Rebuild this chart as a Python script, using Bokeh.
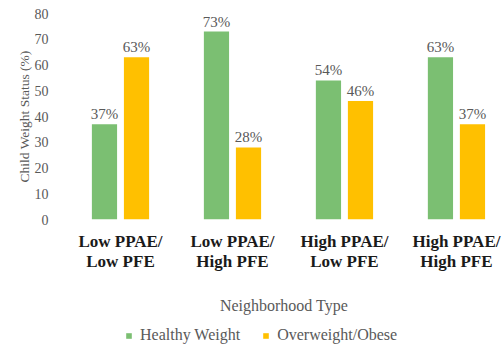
from bokeh.plotting import figure
from bokeh.layouts import column
from bokeh.models import Range1d, FixedTicker, ColumnDataSource, Legend, LegendItem, LabelSet
from bokeh.transform import dodge
from bokeh.embed import file_html
from bokeh.resources import INLINE

# Neighborhood types and weight-status shares (%)
categories = ["Low PPAE/\nLow PFE", "Low PPAE/\nHigh PFE", "High PPAE/\nLow PFE", "High PPAE/\nHigh PFE"]
series = ["Healthy Weight", "Overweight/Obese"]
healthy = [37, 73, 54, 63]
overweight = [63, 28, 46, 37]
y_ticks = [0, 10, 20, 30, 40, 50, 60, 70, 80]

GREEN = "#7bbf72"
ORANGE = "#ffc000"
SERIF = "Liberation Serif"
GREY = "#595959"

xpos = [i + 0.5 for i in range(len(categories))]
src = ColumnDataSource(dict(
    x=xpos,
    healthy=healthy,
    overweight=overweight,
    hl=[f"{v}%" for v in healthy],
    ol=[f"{v}%" for v in overweight],
))

p = figure(frame_width=439, frame_height=206, output_backend="svg", toolbar_location=None,
           x_range=Range1d(0, 3.92), y_range=Range1d(0, 80),
           min_border_top=13, min_border_left=64, min_border_right=0,
           min_border_bottom=94)

bw = 0.225
p.vbar(x=dodge("x", -0.143, range=p.x_range), top="healthy", width=bw,
       source=src, fill_color=GREEN, line_color=None)
p.vbar(x=dodge("x", 0.143, range=p.x_range), top="overweight", width=bw,
       source=src, fill_color=ORANGE, line_color=None)

for col, lab, dx in (("healthy", "hl", -0.143), ("overweight", "ol", 0.143)):
    p.add_layout(LabelSet(x=dodge("x", dx, range=p.x_range), y=col, text=lab,
                          source=src, text_align="center", y_offset=2,
                          text_font=SERIF, text_font_size="15px",
                          text_color=GREY))

# axes
p.xaxis.ticker = FixedTicker(ticks=xpos)
p.xaxis.major_label_overrides = {x: c for x, c in zip(xpos, categories)}
p.xaxis.major_label_text_font = SERIF
p.xaxis.major_label_text_font_style = "bold"
p.xaxis.major_label_text_font_size = "17px"
p.xaxis.major_label_text_line_height = 1.1
p.xaxis.major_label_text_color = "#1a1a1a"
p.xaxis.major_label_standoff = 6
p.xaxis.axis_label = "Neighborhood Type"
p.xaxis.axis_label_text_font = SERIF
p.xaxis.axis_label_text_font_style = "normal"
p.xaxis.axis_label_text_font_size = "16px"
p.xaxis.axis_label_text_color = GREY
p.xaxis.axis_label_standoff = 23

p.yaxis.ticker = FixedTicker(ticks=y_ticks)
p.yaxis.major_label_text_font = SERIF
p.yaxis.major_label_text_font_size = "14px"
p.yaxis.major_label_text_color = GREY
p.yaxis.major_label_standoff = 10
p.yaxis.axis_label = "Child Weight Status (%)"
p.yaxis.axis_label_text_font = SERIF
p.yaxis.axis_label_text_font_style = "normal"
p.yaxis.axis_label_text_font_size = "13.5px"
p.yaxis.axis_label_text_color = GREY
p.yaxis.axis_label_standoff = 0

for ax in (p.xaxis, p.yaxis):
    ax.axis_line_color = None
    ax.major_tick_line_color = None
    ax.minor_tick_line_color = None

p.xgrid.grid_line_color = None
p.ygrid.grid_line_color = None
p.outline_line_color = None

# legend strip underneath the chart; its swatch renderers lie far outside the visible range
lg = figure(width=503, height=32, output_backend="svg", toolbar_location=None,
            x_range=Range1d(0, 1), y_range=Range1d(0, 1),
            x_axis_location=None, y_axis_location=None,
            min_border=0, outline_line_color=None)
lg.grid.visible = False
swatch = ColumnDataSource(dict(x=[5.0], top=[1.0]))
rg = lg.vbar(x="x", top="top", width=0.1, source=swatch, fill_color=GREEN, line_color=None)
ro = lg.vbar(x="x", top="top", width=0.1, source=swatch, fill_color=ORANGE, line_color=None)
legend = Legend(items=[LegendItem(label=series[0], renderers=[rg]),
                       LegendItem(label=series[1], renderers=[ro])],
                orientation="horizontal", location=(61, 5),
                label_text_font=SERIF, label_text_font_size="16px",
                label_text_color=GREY, glyph_width=7, glyph_height=7,
                label_standoff=8, spacing=22, padding=0, margin=0,
                border_line_color=None, background_fill_alpha=0)
lg.add_layout(legend, "center")

open("out.html", "w").write(file_html(column(p, lg, spacing=0), INLINE))
